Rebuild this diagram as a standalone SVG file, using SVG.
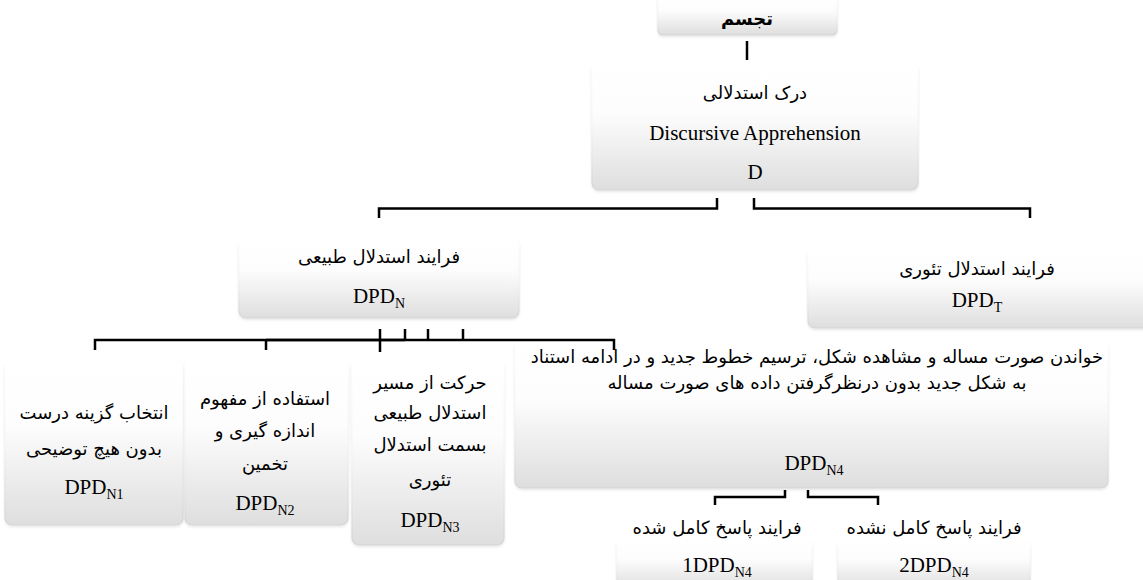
<svg xmlns="http://www.w3.org/2000/svg" width="1143" height="580" viewBox="0 0 1143 580">
<style>
.box{fill:url(#g);stroke:url(#gs);stroke-width:1.2;filter:url(#sh)}
.fa{font-family:"DejaVu Sans",sans-serif;font-size:18px;fill:#000;text-anchor:middle;direction:rtl}
.en{font-family:"Liberation Serif",serif;font-size:21px;fill:#000;text-anchor:middle}
.sub{font-size:14px}
.c{fill:none;stroke:#000;stroke-width:2.5}
</style>
<defs>
<linearGradient id="g" x1="0" y1="0" x2="0" y2="1">
<stop offset="0" stop-color="#ffffff"/>
<stop offset="0.4" stop-color="#fdfdfd"/>
<stop offset="1" stop-color="#dedede"/>
</linearGradient>
<linearGradient id="gs" x1="0" y1="0" x2="0" y2="1">
<stop offset="0" stop-color="#ffffff"/>
<stop offset="0.5" stop-color="#f4f4f4"/>
<stop offset="1" stop-color="#d4d4d4"/>
</linearGradient>
<filter id="sh" x="-5%" y="-5%" width="110%" height="115%">
<feDropShadow dx="0" dy="1.5" stdDeviation="1" flood-color="#000" flood-opacity="0.1"/>
</filter>
</defs>
<rect width="1143" height="580" fill="#fff"/>
<g id="n0">
<rect class="box" x="658" y="-6" width="179" height="41" rx="5"/>
<text class="fa" x="747" y="25" font-weight="bold" font-size="17">تجسم</text>
</g>
<g id="nD">
<rect class="box" x="592" y="62" width="326" height="128" rx="7"/>
<text class="fa" x="755" y="99">درک استدلالی</text>
<text class="en" x="755" y="140">Discursive Apprehension</text>
<text class="en" x="755" y="179">D</text>
</g>
<g id="nN">
<rect class="box" x="239" y="238" width="280" height="80" rx="7"/>
<text class="fa" x="379" y="263">فرایند استدلال طبیعی</text>
<text class="en" x="379" y="303">DPD<tspan class="sub" dy="5">N</tspan></text>
</g>
<g id="nT">
<rect class="box" x="808" y="248" width="345" height="80" rx="7"/>
<text class="fa" x="977" y="275">فرایند استدلال تئوری</text>
<text class="en" x="977" y="307">DPD<tspan class="sub" dy="5">T</tspan></text>
</g>
<g id="nN1">
<rect class="box" x="5" y="360" width="178" height="165" rx="7"/>
<text class="fa" x="94" y="419">انتخاب گزینه درست</text>
<text class="fa" x="94" y="455">بدون هیچ توضیحی</text>
<text class="en" x="94" y="494">DPD<tspan class="sub" dy="5">N1</tspan></text>
</g>
<g id="nN2">
<rect class="box" x="185" y="360" width="163" height="165" rx="7"/>
<text class="fa" x="265" y="405">استفاده از مفهوم</text>
<text class="fa" x="265" y="437">اندازه گیری و</text>
<text class="fa" x="265" y="470">تخمین</text>
<text class="en" x="265" y="510">DPD<tspan class="sub" dy="5">N2</tspan></text>
</g>
<g id="nN3">
<rect class="box" x="352" y="360" width="152" height="185" rx="7"/>
<text class="fa" x="430" y="389">حرکت از مسیر</text>
<text class="fa" x="430" y="419">استدلال طبیعی</text>
<text class="fa" x="430" y="451">بسمت استدلال</text>
<text class="fa" x="430" y="486">تئوری</text>
<text class="en" x="430" y="527">DPD<tspan class="sub" dy="5">N3</tspan></text>
</g>
<g id="nN4">
<rect class="box" x="515" y="340" width="593" height="148" rx="7"/>
<text class="fa" x="817" y="363">خواندن صورت مساله و مشاهده شکل، ترسیم خطوط جدید و در ادامه استناد</text>
<text class="fa" x="817" y="389">به شکل جدید بدون درنظرگرفتن داده های صورت مساله</text>
<text class="en" x="814" y="470">DPD<tspan class="sub" dy="5">N4</tspan></text>
</g>
<g id="nP1">
<rect class="box" x="617" y="540" width="195" height="48" rx="6"/>
<text class="fa" x="717" y="534">فرایند پاسخ کامل شده</text>
<text class="en" x="717" y="572">1DPD<tspan class="sub" dy="5">N4</tspan></text>
</g>
<g id="nP2">
<rect class="box" x="838" y="540" width="192" height="48" rx="6"/>
<text class="fa" x="934" y="534">فرایند پاسخ کامل نشده</text>
<text class="en" x="934" y="572">2DPD<tspan class="sub" dy="5">N4</tspan></text>
</g>
<g id="connectors">
<path class="c" d="M747,41 V60" stroke-width="3.5"/>
<path class="c" d="M379,218 V208.5 H717 V198"/>
<path class="c" d="M754,198 V208.5 H1030 V218"/>
<path class="c" d="M95,350 V340 H614 V350"/>
<path class="c" d="M266,340 H405" stroke-width="3.5"/>
<path class="c" d="M266,340 V350"/>
<path class="c" d="M380,329 V352"/>
<path class="c" d="M405,329 V340"/>
<path class="c" d="M428,329 V340"/>
<path class="c" d="M463,329 V340"/>
<path class="c" d="M785,490 V497 H715 V505"/>
<path class="c" d="M808,490 V497 H878 V505"/>
</g>
</svg>
